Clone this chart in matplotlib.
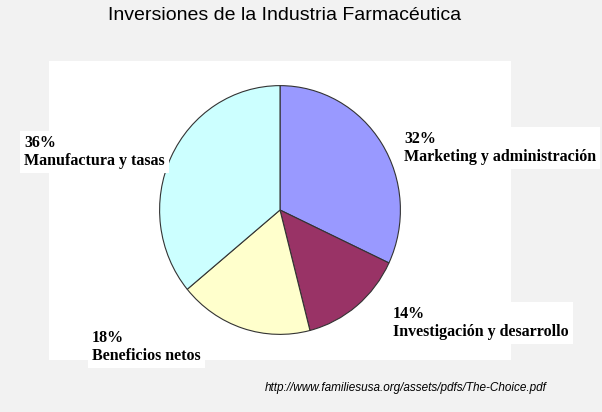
import matplotlib
matplotlib.use("Agg")
import matplotlib.pyplot as plt

labels = ["Marketing y administración", "Investigación y desarrollo", "Beneficios netos", "Manufactura y tasas"]
values = [32, 14, 18, 36]
colors = ["#9999FF", "#993366", "#FFFFCC", "#CCFFFF"]

W, H = 602, 412
fig = plt.figure(figsize=(W/100, H/100), dpi=100)
fig.patch.set_facecolor("#F2F2F2")
bg = fig.add_axes([49/W, 1-360/H, (511-49)/W, (360-61)/H], zorder=0)
bg.set_facecolor("white"); bg.set_xticks([]); bg.set_yticks([])
for s in bg.spines.values():
    s.set_visible(False)

cx, cy, rx, ry = 280, 210, 121, 125
ax = fig.add_axes([(cx-rx)/W, 1-(cy+ry)/H, 2*rx/W, 2*ry/H], zorder=1)
ax.pie(values, colors=colors, startangle=90, counterclock=False,
       wedgeprops=dict(edgecolor="#333333", linewidth=0.8), radius=1)
ax.set_aspect("auto")
ax.set_xlim(-1.005, 1.005); ax.set_ylim(-1.005, 1.005)
ax.axis("off")

fig.text(285/W, 1-16/H, "Inversiones de la Industria Farmacéutica", ha="center", va="center",
         fontsize=14, family="Liberation Sans")

pos = [(404, 148), (393, 323), (92, 347), (24, 152)]
for (x, y), lab, v in zip(pos, labels, values):
    fig.text(x/W, 1-y/H, f"{v}%\n{lab}", ha="left", va="center", fontsize=11.5,
             family="Liberation Serif", fontweight="bold", linespacing=1.2,
             bbox=dict(facecolor="white", edgecolor="none", pad=3), zorder=3)

fig.text(547/W, 1-388/H, "http://www.familiesusa.org/assets/pdfs/The-Choice.pdf", ha="right", va="center",
         fontsize=8.5, style="italic", family="Liberation Sans")

fig.savefig("out.png", dpi=100, facecolor=fig.get_facecolor())
